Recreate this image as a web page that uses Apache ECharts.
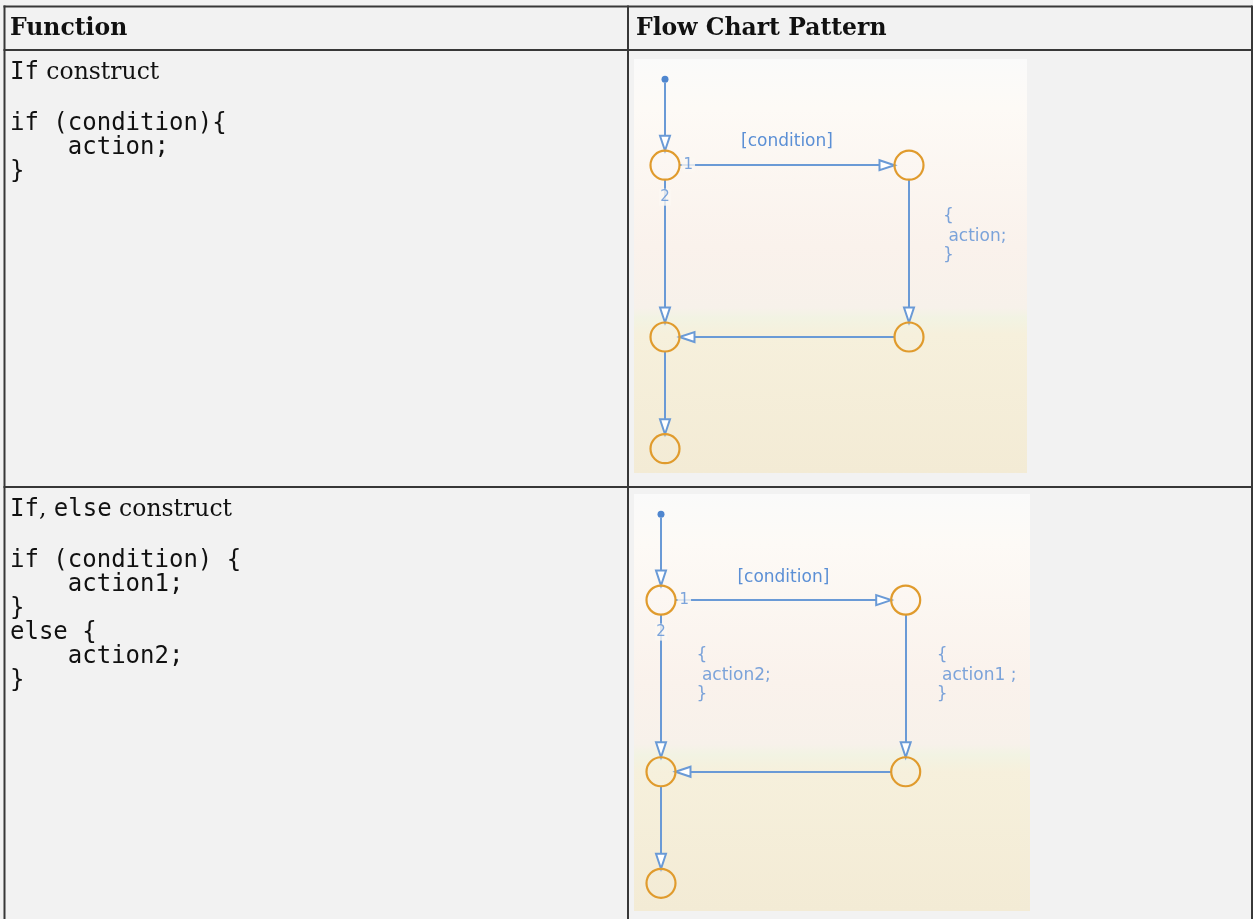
<!DOCTYPE html>
<html>
<head>
<meta charset="utf-8">
<script src="https://cdn.jsdelivr.net/npm/echarts@6/dist/echarts.min.js"></script>
<style>
html,body{margin:0;padding:0;background:#f2f2f2;}
#c{width:1253px;height:919px;}
</style>
</head>
<body>
<div id="c"></div>
<script>
// ---------------- data ----------------
const headers = ['Function', 'Flow Chart Pattern'];
const rowTitle1 = [['m', 'If'], ['s', ' construct']];
const rowTitle2 = [['m', 'If'], ['s', ', '], ['m', 'else'], ['s', ' construct']];
const codeRow1 = ['if (condition){', '    action;', '}'];
const codeRow2 = ['if (condition) {', '    action1;', '}', 'else {', '    action2;', '}'];

// flow chart states (column, row in the pattern grid)
const stateNames = ['start', 's1', 's2', 's3', 's4', 's5'];
const stateCols  = [0, 0, 1, 0, 1, 0];
const stateRows  = [0, 1, 1, 3, 3, 4.3];

// transitions
const transFrom  = ['start', 's1', 's2', 's4', 's1', 's3'];
const transTo    = ['s1', 's2', 's4', 's3', 's3', 's5'];
const transGuard = ['', '[condition]', '', '', '', ''];
const transOrder = ['', '1', '', '', '2', ''];
const actionsIf     = ['', '', '{\n action;\n}', '', '', ''];
const actionsIfElse = ['', '', '{\n action1 ;\n}', '', '{\n action2;\n}', ''];

// ---------------- styles ----------------
const BLUE = '#6a9ad6';
const TXT_BLUE = '#5b8fd5';
const ORANGE = '#e09b2d';
const DOT = '#4f86cf';
const BORDER = '#383838';
const STATE_SIZE = 29;
const MASK = '#fbf7f2';
const ARROW = 'emptyPath://M5,0 L5,0 M5,15 L10,30 L0,30 Z';

const diagrams = [
  { grid: {left: 665, top: 79.3, width: 244, height: 369.4},
    bg: {x: 634, y: 59, width: 393, height: 414},
    actions: actionsIf,
    notes: {2: [34, -15]},
    guardDist: 15 },
  { grid: {left: 661, top: 514.3, width: 244.7, height: 369},
    bg: {x: 634, y: 494, width: 396, height: 417},
    actions: actionsIfElse,
    notes: {2: [31, -10.5], 4: [35.5, -10.5]},
    guardDist: 14 }
];

const diagramFont = {fontFamily: 'DejaVu Sans', fontSize: 17, color: TXT_BLUE};

function pos(name) {
  const i = stateNames.indexOf(name);
  return [stateCols[i], stateRows[i]];
}

const grids = [], xAxes = [], yAxes = [], series = [], graphics = [];

diagrams.forEach(function (d, k) {
  grids.push(Object.assign({containLabel: false}, d.grid));
  xAxes.push({type: 'value', gridIndex: k, min: 0, max: 1, show: false});
  yAxes.push({type: 'value', gridIndex: k, min: 0, max: 4.3, inverse: true, show: false});

  graphics.push({
    type: 'rect', z: 0,
    shape: {x: d.bg.x, y: d.bg.y, width: d.bg.width, height: d.bg.height},
    style: {fill: new echarts.graphic.LinearGradient(0, 0, 0, 1, [
      {offset: 0, color: '#fafafa'},
      {offset: 0.12, color: '#fdfaf6'},
      {offset: 0.45, color: '#faf2ec'},
      {offset: 0.6, color: '#f7f1ea'},
      {offset: 0.625, color: '#f2f3e3'},
      {offset: 0.665, color: '#f6f0dc'},
      {offset: 1, color: '#f3ebd5'}
    ])}
  });

  const nodes = stateNames.map(function (n, i) {
    return {
      name: n,
      value: [stateCols[i], stateRows[i]],
      symbol: 'circle',
      symbolSize: i === 0 ? 7 : STATE_SIZE,
      itemStyle: i === 0 ? {color: DOT}
        : {color: 'rgba(255,255,255,0)', borderColor: ORANGE, borderWidth: 2.2}
    };
  });
  const links = transFrom.map(function (f, i) {
    const l = {source: f, target: transTo[i]};
    if (transGuard[i]) {
      const g = transGuard[i];
      l.label = Object.assign({show: true, formatter: function () { return g; },
        position: 'insideMiddleTop', distance: d.guardDist}, diagramFont);
    }
    return l;
  });

  series.push({
    type: 'graph',
    coordinateSystem: 'cartesian2d',
    xAxisIndex: k, yAxisIndex: k,
    z: 2,
    silent: true,
    data: nodes,
    links: links,
    label: {show: false},
    edgeSymbol: ['circle', ARROW],
    edgeSymbolSize: [0, [10, 30]],
    lineStyle: {color: BLUE, width: 2, opacity: 1, curveness: 0}
  });

  // annotations: execution order numbers and actions
  const ann = [];
  transFrom.forEach(function (f, i) {
    const a = pos(f), b = pos(transTo[i]);
    if (transOrder[i]) {
      const horizontal = a[1] === b[1];
      const t = transOrder[i];
      ann.push({
        value: a, symbolSize: STATE_SIZE,
        label: {show: true, formatter: function () { return t; },
          position: horizontal ? 'right' : 'bottom',
          distance: horizontal ? 2 : 9,
          fontFamily: 'DejaVu Sans', fontSize: 15, color: TXT_BLUE,
          backgroundColor: MASK, padding: horizontal ? [0, 2, 0, 2] : [1, 1, 1, 1]}
      });
    }
    const act = d.actions[i];
    if (act) {
      const off = d.notes[i];
      ann.push({
        value: [(a[0] + b[0]) / 2, (a[1] + b[1]) / 2], symbolSize: 0,
        label: Object.assign({show: true, formatter: function () { return act; },
          position: 'right', distance: off[0], offset: [0, off[1]],
          align: 'left', lineHeight: 19.5}, diagramFont)
      });
    }
  });
  series.push({
    type: 'scatter', xAxisIndex: k, yAxisIndex: k, z: 5, silent: true,
    symbol: 'circle',
    itemStyle: {color: 'rgba(0,0,0,0)'},
    data: ann
  });
});

// ---------------- table ----------------
const MONO = 'DejaVu Sans Mono';
const SERIF = 'DejaVu Serif';
const richTitle = {
  m: {fontFamily: MONO, fontSize: 24, fill: '#111'},
  s: {fontFamily: SERIF, fontSize: 23.5, fill: '#111'}
};
function richText(parts) {
  return parts.map(function (p) { return '{' + p[0] + '|' + p[1] + '}'; }).join('');
}

const tableLines = [
  [3.5, 6.5, 1252, 6.5],
  [3.5, 50, 1252, 50],
  [3.5, 487, 1252, 487],
  [4.5, 5.5, 4.5, 919],
  [628, 5.5, 628, 919],
  [1252, 5.5, 1252, 919]
];
tableLines.forEach(function (l) {
  graphics.push({type: 'line', z: 10, shape: {x1: l[0], y1: l[1], x2: l[2], y2: l[3]},
    style: {stroke: BORDER, lineWidth: 2}});
});

[[10, headers[0]], [636, headers[1]]].forEach(function (h) {
  graphics.push({type: 'text', z: 10, x: h[0], y: 28.5,
    style: {text: h[1], fontFamily: SERIF, fontWeight: 'bold', fontSize: 23.5,
      fill: '#111', verticalAlign: 'middle', align: 'left'}});
});

graphics.push({type: 'text', z: 10, x: 10, y: 73,
  style: {text: richText(rowTitle1), rich: richTitle, verticalAlign: 'middle', align: 'left'}});
graphics.push({type: 'text', z: 10, x: 10, y: 510,
  style: {text: richText(rowTitle2), rich: richTitle, verticalAlign: 'middle', align: 'left'}});

graphics.push({type: 'text', z: 10, x: 10, y: 112,
  style: {text: codeRow1.join('\n'), fontFamily: MONO, fontSize: 24, lineHeight: 24,
    fill: '#111', verticalAlign: 'top', align: 'left'}});
graphics.push({type: 'text', z: 10, x: 10, y: 549,
  style: {text: codeRow2.join('\n'), fontFamily: MONO, fontSize: 24, lineHeight: 24,
    fill: '#111', verticalAlign: 'top', align: 'left'}});

const chart = echarts.init(document.getElementById('c'), null, {renderer: 'canvas'});
chart.setOption({
  backgroundColor: '#f2f2f2',
  animation: false,
  grid: grids,
  xAxis: xAxes,
  yAxis: yAxes,
  series: series,
  graphic: {elements: graphics}
});
</script>
</body>
</html>
